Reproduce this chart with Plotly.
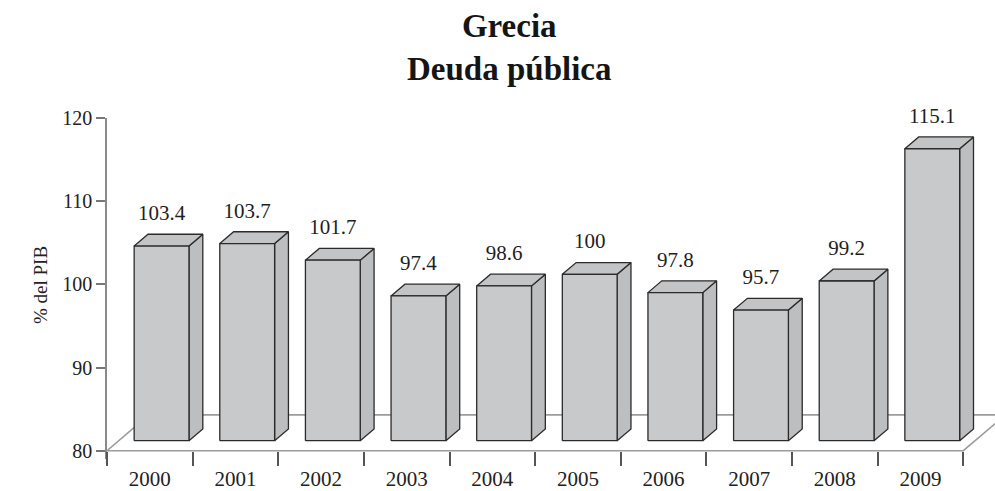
import plotly.graph_objects as go

# Greek public debt, % of GDP
years = ["2000", "2001", "2002", "2003", "2004", "2005", "2006", "2007", "2008", "2009"]
debt = [103.4, 103.7, 101.7, 97.4, 98.6, 100.0, 97.8, 95.7, 99.2, 115.1]
y_ticks = [80, 90, 100, 110, 120]

BASE = 80.0          # value at the floor
KX, KY = 0.49, 4.3   # oblique projection of one unit of depth (x units, value units)
D0, D1 = 0.28, 0.61  # depth span occupied by the bars (floor spans 0..1)
BAR_W = 0.64         # bar width as a fraction of a category slot
LABEL_GAP = 2.5      # gap between bar front top and the bottom of its value label

FONT = "Liberation Serif"
EDGE = "#2b2b2b"
FLOOR = "#9c9c9c"


def proj(x, v, d):
    """Oblique projection of a point (x, value, depth) onto the plane."""
    return x + d * KX, v + d * KY


def poly(points):
    xs = [p[0] for p in points] + [points[0][0], None]
    ys = [p[1] for p in points] + [points[0][1], None]
    return xs, ys


n = len(years)
fig = go.Figure()

# floor parallelogram
floor_pts = [proj(0, BASE, 0), proj(n, BASE, 0), proj(n, BASE, 1), proj(0, BASE, 1)]
fx, fy = poly(floor_pts)
fig.add_trace(go.Scatter(x=fx, y=fy, mode="lines", fill="toself", fillcolor="white",
                         line=dict(color=FLOOR, width=1.6), hoverinfo="skip"))

front_x, front_y, side_x, side_y, top_x, top_y = [], [], [], [], [], []
lab_x, lab_y, lab_t = [], [], []
for i, v in enumerate(debt):
    xl = i + 0.5 - BAR_W / 2
    xr = i + 0.5 + BAR_W / 2
    px, py = poly([proj(xl, BASE, D0), proj(xr, BASE, D0), proj(xr, v, D0), proj(xl, v, D0)])
    front_x += px
    front_y += py
    px, py = poly([proj(xr, BASE, D0), proj(xr, BASE, D1), proj(xr, v, D1), proj(xr, v, D0)])
    side_x += px
    side_y += py
    px, py = poly([proj(xl, v, D0), proj(xr, v, D0), proj(xr, v, D1), proj(xl, v, D1)])
    top_x += px
    top_y += py
    cx, cy = proj(i + 0.5, v, D0)
    lab_x.append(cx)
    lab_y.append(cy + LABEL_GAP)
    lab_t.append(f"{v:g}")

for xs, ys, col in [(side_x, side_y, "#bdbec0"), (top_x, top_y, "#c3c4c6"),
                    (front_x, front_y, "#c8c9cb")]:
    fig.add_trace(go.Scatter(x=xs, y=ys, mode="lines", fill="toself", fillcolor=col,
                             line=dict(color=EDGE, width=1.3), hoverinfo="skip"))

fig.add_trace(go.Scatter(x=lab_x, y=lab_y, mode="text", text=lab_t,
                         textposition="top center", cliponaxis=False,
                         textfont=dict(family=FONT, size=21, color="#1e1e1e"),
                         hoverinfo="skip"))

Y_LO, Y_HI = 79.0, 120.0
fig.update_layout(
    width=995, height=491,
    margin=dict(l=107, r=0, t=118, b=32),
    paper_bgcolor="white", plot_bgcolor="white",
    showlegend=False,
    xaxis=dict(
        range=[0, 10.37], showgrid=False, zeroline=False, showline=False,
        tickmode="array", tickvals=[i + 0.5 for i in range(n)], ticktext=years,
        ticks="", ticklabelstandoff=13,
        tickfont=dict(family=FONT, size=21, color="#222"),
        minor=dict(tickmode="array", tickvals=list(range(n + 1)), ticks="outside",
                   ticklen=14, tickwidth=1.6, tickcolor="#555", showgrid=False),
        anchor="free", position=(BASE - Y_LO) / (Y_HI - Y_LO),
    ),
    yaxis=dict(
        range=[Y_LO, Y_HI], showgrid=False, zeroline=False,
        showline=True, linecolor="#8a8a8a", linewidth=1.6,
        tickmode="array", tickvals=y_ticks, ticks="outside", ticklen=9,
        tickwidth=1.6, tickcolor="#777",
        tickfont=dict(family=FONT, size=20, color="#222"),
    ),
    annotations=[
        dict(text="<b>Grecia</b><br><b>Deuda pública</b>", xref="paper", yref="paper",
             x=(509 - 107) / 888, y=1, yshift=112, xanchor="center", yanchor="top",
             showarrow=False, font=dict(family=FONT, size=33, color="#151515")),
        dict(text="% del PIB", xref="paper", yref="paper", textangle=-90,
             x=(40 - 107) / 888, y=(459 - 285) / 341, xanchor="center", yanchor="middle",
             showarrow=False, font=dict(family=FONT, size=19, color="#222")),
    ],
)

fig.write_html("out.html")
